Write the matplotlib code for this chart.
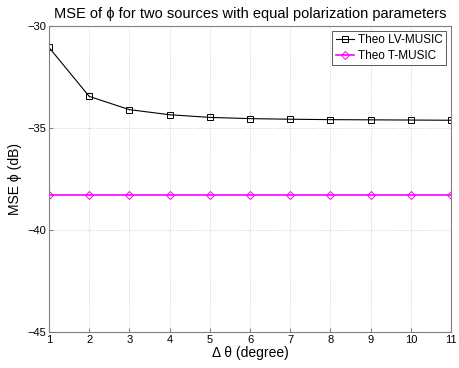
import matplotlib
matplotlib.use("Agg")
import matplotlib.pyplot as plt

plt.rcParams['font.family'] = ['Liberation Sans', 'DejaVu Sans']

delta_theta = [1, 2, 3, 4, 5, 6, 7, 8, 9, 10, 11]
lv_music = [-31.05, -33.45, -34.1, -34.35, -34.48, -34.54, -34.57, -34.59, -34.6, -34.61, -34.62]
t_music = [-38.3] * 11
x_ticks = [1, 2, 3, 4, 5, 6, 7, 8, 9, 10, 11]
y_ticks = [-45, -40, -35, -30]

fig = plt.figure(figsize=(4.59, 3.68), dpi=100)
ax = fig.add_axes([49/459, 1 - 332/368, (451-49)/459, (332-26)/368])

ax.plot(delta_theta, lv_music, color='black', lw=0.8, marker='s', ms=4.5,
        mfc='none', mec='black', mew=0.7, label='Theo LV-MUSIC')
ax.plot(delta_theta, t_music, color='#ff00ff', lw=1.2, marker='D', ms=4.2,
        mfc='none', mec='#ff00ff', mew=0.7, label='Theo T-MUSIC')

ax.set_xlim(1, 11)
ax.set_ylim(-45, -30)
ax.set_xticks(x_ticks)
ax.set_yticks(y_ticks)
ax.tick_params(direction='in', labelsize=8, length=3, color='#808080', pad=2)
ax.grid(True, linestyle=':', color='#d0d0d0', lw=0.7)
for s in ax.spines.values():
    s.set_color('#808080')
    s.set_linewidth(0.8)

ax.set_title('MSE of \u03d5 for two sources with equal polarization parameters', fontsize=10.5, pad=6)
ax.set_xlabel('\u0394 \u03b8 (degree)', fontsize=10, labelpad=1)
ax.set_ylabel('MSE \u03d5 (dB)', fontsize=10, labelpad=4)

leg = ax.legend(loc='upper right', fontsize=8.5, fancybox=False, framealpha=1,
                edgecolor='#404040', borderpad=0.3, handlelength=1.6, handletextpad=0.3,
                labelspacing=0.3, borderaxespad=0.4)
leg.get_frame().set_linewidth(0.6)

fig.savefig('out.png', dpi=100)
